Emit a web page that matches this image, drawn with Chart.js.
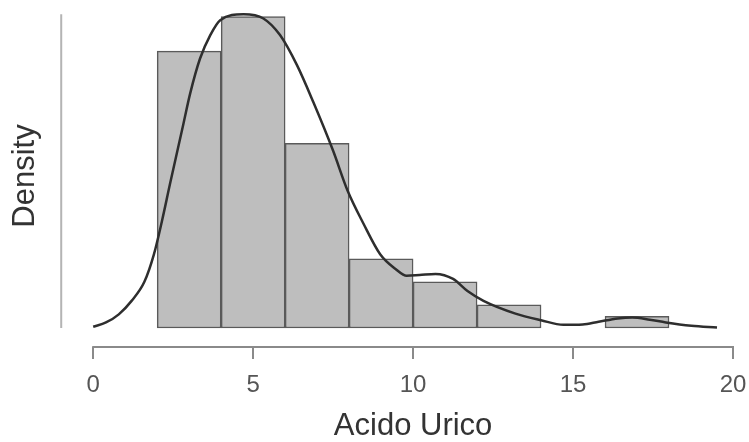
<!DOCTYPE html>
<html>
<head>
<meta charset="utf-8">
<script src="https://cdn.jsdelivr.net/npm/chart.js@4.4.1/dist/chart.umd.min.js"></script>
<style>
    html, body { margin: 0; padding: 0; background: #fff; }
</style>
</head>
<body>
<canvas id="histChart" width="749" height="442"></canvas>
<script>
// histogram bins (width 2), centres and density heights
const binMids = [3, 5, 7, 9, 11, 13, 15, 17];
const binDensity = [0.15, 0.16875, 0.1, 0.0375, 0.025, 0.0125, 0, 0.00625];

// kernel density curve
const curveX = [0, 0.4, 0.8, 1.2, 1.6, 1.9, 2.15, 2.4, 2.8, 3.03, 3.34, 3.66, 3.97, 4.7,
    5.32, 5.84, 6.37, 6.88, 7.5, 7.95, 8.45, 8.97, 9.45, 9.8, 10.2, 10.7, 11.25, 11.7,
    12.2, 13.2, 14.0, 14.7, 15.3, 15.8, 16.4, 16.85, 17.4, 17.9, 18.7, 19.5];
const curveY = [0.0007, 0.003, 0.0074, 0.0147, 0.025, 0.04, 0.058, 0.078, 0.109, 0.127,
    0.146, 0.1587, 0.1668, 0.17, 0.1677, 0.1587, 0.1424, 0.1224, 0.096, 0.0745, 0.0565,
    0.04, 0.032, 0.0283, 0.0287, 0.0293, 0.0266, 0.02, 0.0147, 0.0078, 0.0042, 0.0017,
    0.0019, 0.0034, 0.0052, 0.0057, 0.0045, 0.003, 0.0012, 0.0002];

const xTicks = [0, 5, 10, 15, 20];
const yAxisTop = 0.17;
const yAxisAt = -1;   // x position of the y axis line, left of the data

const font = "'Liberation Sans', Arial, Helvetica, sans-serif";

// R style axes: detached x axis line between first and last tick, plain y line
const axisLines = {
    id: 'axisLines',
    afterDraw(chart) {
        const ctx = chart.ctx;
        const xs = chart.scales.x;
        const ys = chart.scales.y;
        ctx.save();
        ctx.strokeStyle = '#8a8a8a';
        ctx.lineWidth = 2;
        ctx.beginPath();
        ctx.moveTo(xs.getPixelForValue(xTicks[0]) - 1, chart.chartArea.bottom);
        ctx.lineTo(xs.getPixelForValue(xTicks[xTicks.length - 1]) + 1, chart.chartArea.bottom);
        ctx.stroke();

        ctx.strokeStyle = '#b4b4b4';
        ctx.beginPath();
        const lx = xs.getPixelForValue(yAxisAt);
        ctx.moveTo(lx, ys.getPixelForValue(0));
        ctx.lineTo(lx, ys.getPixelForValue(yAxisTop));
        ctx.stroke();
        ctx.restore();
    }
};

const ctx = document.getElementById('histChart');
new Chart(ctx, {
    type: 'bar',
    data: {
        datasets: [{
            type: 'line',
            data: curveX.map((x, i) => ({x: x, y: curveY[i]})),
            borderColor: '#2e2e2e',
            borderWidth: 2.5,
            pointRadius: 0,
            cubicInterpolationMode: 'monotone',
            fill: false,
            clip: 4,
            order: 0
        }, {
            type: 'bar',
            data: binMids.map((x, i) => ({x: x, y: binDensity[i]})),
            backgroundColor: '#bebebe',
            borderColor: '#5a5a5a',
            borderWidth: 1.5,
            borderSkipped: false,
            barPercentage: 1,
            categoryPercentage: 1,
            order: 1
        }]
    },
    options: {
        responsive: false,
        animation: false,
        layout: {padding: {left: 7, right: 16, top: 5, bottom: 0}},
        plugins: {
            legend: {display: false},
            tooltip: {enabled: false}
        },
        scales: {
            x: {
                type: 'linear',
                offset: false,
                min: 0,
                max: 20,
                afterBuildTicks: (scale) => {
                    scale.ticks = xTicks.map(v => ({value: v}));
                },
                afterFit: (scale) => {
                    // the end labels may hang into the page margin, as in R
                    scale.paddingLeft = 0;
                    scale.paddingRight = 0;
                },
                grid: {
                    offset: false,
                    drawOnChartArea: false,
                    drawTicks: true,
                    tickLength: 12,
                    color: '#8a8a8a',
                    lineWidth: 2
                },
                border: {display: false},
                ticks: {
                    padding: 14,
                    color: '#555',
                    maxRotation: 0,
                    font: {family: font, size: 24, lineHeight: 1}
                },
                title: {
                    display: true,
                    text: 'Acido Urico',
                    color: '#333',
                    padding: {top: 0, bottom: 0},
                    font: {family: font, size: 31, lineHeight: 1}
                }
            },
            y: {
                min: -0.0103,
                max: 0.175,
                grid: {display: false, drawTicks: false},
                border: {display: false},
                ticks: {display: false},
                title: {
                    display: true,
                    text: 'Density',
                    color: '#333',
                    padding: {top: 0, bottom: 49},
                    font: {family: font, size: 31, lineHeight: 1.2}
                }
            }
        }
    },
    plugins: [axisLines]
});
</script>
</body>
</html>
